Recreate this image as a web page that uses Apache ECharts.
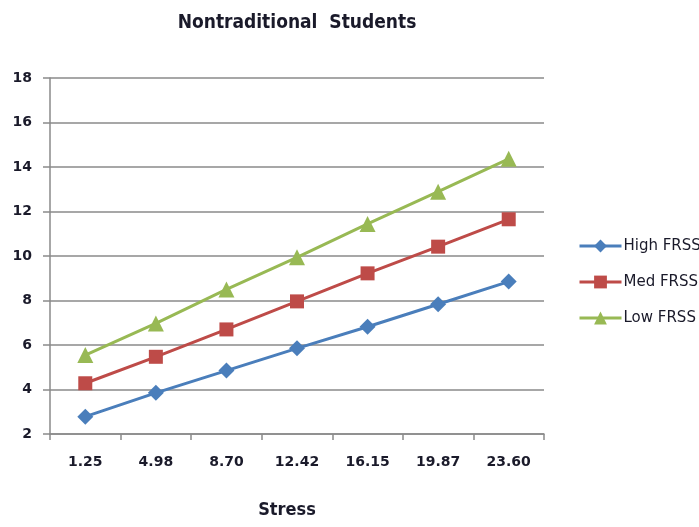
<!DOCTYPE html>
<html>
<head>
<meta charset="utf-8">
<script src="https://cdn.jsdelivr.net/npm/echarts@6/dist/echarts.min.js"></script>
<style>
  html, body { margin: 0; padding: 0; background: #fff; }
  #chart { width: 699px; height: 527px; }
</style>
</head>
<body>
<div id="chart"></div>
<script>
// Stress levels on the x axis
const stressLevels = ['1.25', '4.98', '8.70', '12.42', '16.15', '19.87', '23.60'];

// Predicted values for each FRSS group
const highFRSS = [2.78, 3.85, 4.85, 5.85, 6.82, 7.83, 8.85];
const medFRSS  = [4.28, 5.47, 6.70, 7.96, 9.22, 10.42, 11.65];
const lowFRSS  = [5.55, 6.97, 8.50, 9.94, 11.44, 12.89, 14.37];

const seriesNames = ['High FRSS', 'Med FRSS', 'Low FRSS'];

const FONT_COND = '"DejaVu Sans Condensed", "DejaVu Sans", sans-serif';
const FONT = '"DejaVu Sans", sans-serif';
const textColor = '#1a1a2a';
const gridGray = '#8a8a8a';

const chart = echarts.init(document.getElementById('chart'));

function lineSeries(name, data, color, symbol, size) {
  return {
    name: name,
    type: 'line',
    data: data,
    symbol: symbol,
    symbolSize: size,
    showAllSymbol: true,
    lineStyle: { color: color, width: 3 },
    itemStyle: { color: color },
    emphasis: { disabled: true },
    animation: false
  };
}

chart.setOption({
  backgroundColor: '#ffffff',
  animation: false,
  textStyle: { fontFamily: FONT },
  title: {
    text: 'Nontraditional  Students',
    left: 292,
    textAlign: 'center',
    top: 9,
    textStyle: { fontFamily: FONT_COND, fontSize: 19, fontWeight: 'bold', color: textColor }
  },
  legend: {
    orient: 'vertical',
    left: 573,
    top: 233,
    itemWidth: 42,
    itemHeight: 16,
    itemGap: 20,
    data: seriesNames,
    lineStyle: { width: 3 },
    textStyle: { fontFamily: FONT, fontSize: 15, lineHeight: 16, color: textColor, padding: [0, 0, 0, -3] }
  },
  grid: { left: 50, right: 155, top: 78, bottom: 93, containLabel: false },
  xAxis: {
    type: 'category',
    data: stressLevels,
    boundaryGap: true,
    name: 'Stress',
    nameLocation: 'middle',
    nameGap: 67,
    nameTextStyle: { fontFamily: FONT_COND, fontSize: 18, fontWeight: 'bold', color: textColor, padding: [0, 20, 0, 0] },
    axisLine: { lineStyle: { color: gridGray, width: 1.5 } },
    axisTick: { show: true, length: 6, lineStyle: { color: gridGray, width: 1.5 } },
    axisLabel: { margin: 21, fontFamily: FONT, fontSize: 14, fontWeight: 'bold', color: textColor },
    splitLine: { show: false }
  },
  yAxis: {
    type: 'value',
    min: 2,
    max: 18,
    interval: 2,
    axisLine: { show: true, lineStyle: { color: gridGray, width: 1.5 } },
    axisTick: { show: true, length: 7, lineStyle: { color: gridGray, width: 1.5 } },
    axisLabel: { margin: 18, fontFamily: FONT, fontSize: 14, fontWeight: 'bold', color: textColor },
    splitLine: { show: true, lineStyle: { color: gridGray, width: 1.5 } }
  },
  series: [
    lineSeries(seriesNames[0], highFRSS, '#4a7ebb', 'diamond', 16),
    lineSeries(seriesNames[1], medFRSS, '#be4b48', 'rect', 14),
    lineSeries(seriesNames[2], lowFRSS, '#98b954', 'triangle', 16)
  ]
});
</script>
</body>
</html>
